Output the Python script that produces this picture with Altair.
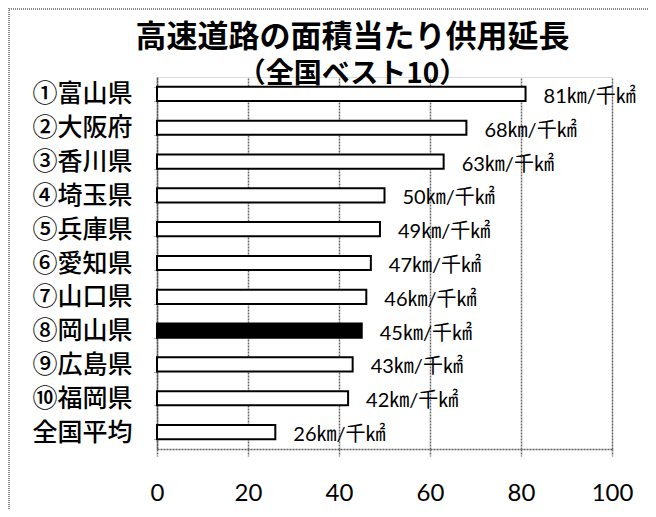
import altair as alt
import pandas as pd

prefs = ["①富山県", "②大阪府", "③香川県", "④埼玉県", "⑤兵庫県", "⑥愛知県",
         "⑦山口県", "⑧岡山県", "⑨広島県", "⑩福岡県", "全国平均"]
values = [81, 68, 63, 50, 49, 47, 46, 45, 43, 42, 26]
highlight = "⑧岡山県"
x_ticks = [0, 20, 40, 60, 80, 100]
title_text = "高速道路の面積当たり供用延長"
subtitle_text = "（全国ベスト10）"

df = pd.DataFrame({
    "pref": prefs,
    "value": values,
    "label": [f"{v}㎞/千㎢" for v in values],
})

JP = "Noto Sans CJK JP"
NUM = "Lato, Noto Sans CJK JP"

y_enc = alt.Y("pref:N", sort=prefs, title=None,
              scale=alt.Scale(paddingInner=0.58, paddingOuter=0.29),
              axis=alt.Axis(labelFont=JP, labelFontSize=25, labelColor="black",
                            labelFontWeight=500, labelPadding=21,
                            ticks=True, tickSize=4, tickBand="extent",
                            tickColor="#666", tickDash=[1, 1],
                            domainColor="#555", domainDash=[2, 1], domainWidth=1.5,
                            grid=False))
x_enc = alt.X("value:Q", title=None,
              scale=alt.Scale(domain=[0, 100], nice=False),
              axis=alt.Axis(values=x_ticks, labelFont=NUM, labelFontSize=24,
                            labelColor="black", labelPadding=25, labelFlush=False,
                            grid=True, gridColor="#666", gridDash=[2, 1], gridWidth=1.5,
                            ticks=True, tickSize=7, tickColor="#666", tickDash=[2, 1],
                            tickWidth=1.5,
                            domainColor="#666", domainDash=[2, 1], domainWidth=1.5))

base = alt.Chart(df)

bars = base.mark_bar(stroke="black", strokeWidth=2).encode(
    x=x_enc,
    y=y_enc,
    fill=alt.condition(alt.datum.pref == highlight, alt.value("black"), alt.value("white")),
)

labels = base.mark_text(align="left", baseline="middle", dx=18, dy=3,
                        font=NUM, fontSize=20, color="black").encode(
    x="value:Q",
    y=alt.Y("pref:N", sort=prefs),
    text="label:N",
)

frame_data = alt.Data(values=[{"k": 1}])
left_border = alt.Chart(frame_data).mark_rule(color="#888", strokeDash=[1, 1], strokeWidth=2).encode(
    x=alt.value(-148), y=alt.value(-69), y2=alt.value(440))
top_border = alt.Chart(frame_data).mark_rule(color="#888", strokeDash=[1, 1], strokeWidth=2).encode(
    x=alt.value(-148), x2=alt.value(495), y=alt.value(-68))

chart = alt.layer(bars, labels, left_border, top_border).properties(
    width=455,
    height=372,
    autosize=alt.AutoSizeParams(type="none"),
    padding={"left": 149, "top": 69, "right": 36, "bottom": 60},
    title=alt.TitleParams(
        text=title_text,
        subtitle=subtitle_text,
        font=JP, fontSize=31, fontWeight="bold", color="black",
        subtitleFont=JP, subtitleFontSize=28, subtitleFontWeight="bold",
        subtitleColor="black", subtitlePadding=7,
        anchor="middle", dx=-32, offset=-83,
    ),
).configure_view(strokeWidth=0).configure(background="white")

chart.save("out.html", embed_options={"renderer": "svg", "actions": False})
